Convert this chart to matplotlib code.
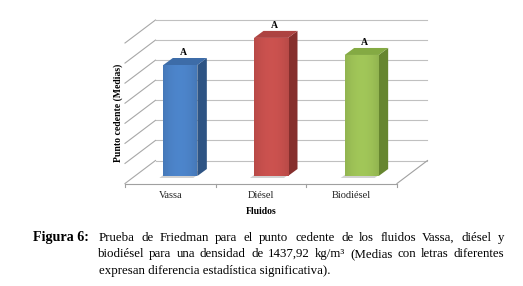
import matplotlib
matplotlib.use("Agg")
import matplotlib.pyplot as plt
from matplotlib.patches import Polygon
from matplotlib.lines import Line2D
import matplotlib.transforms as mtransforms
import matplotlib.colors as mcolors
import numpy as np

# ---------------- data ----------------
categories = ["Vassa", "Diésel", "Biodiésel"]
medias = [5.53, 6.88, 6.03]
letters = ["A", "A", "A"]
gridlevels = list(range(0, 8))
xlabel = "Fluidos"
ylabel = "Punto cedente (Medias)"
caption_head = "Figura 6:"
caption_line1 = "Prueba de Friedman para el punto cedente de los fluidos Vassa, diésel y"
caption_line2 = "biodiésel para una densidad de 1437,92 kg/m³ (Medias con letras diferentes"
caption_line3 = "expresan diferencia estadística significativa)."

front_colors = ["#4a80c4", "#c44f4c", "#9bbf55"]
top_colors = ["#3d6ca8", "#ad4341", "#84aa43"]
side_colors = ["#2e5484", "#862f2d", "#66862f"]

# ---------------- figure ----------------
W, H, DPI = 523, 286, 100
fig = plt.figure(figsize=(W / DPI, H / DPI), dpi=DPI)
fig.patch.set_facecolor("white")
ax = fig.add_axes([135 / W, 110 / H, 272 / W, 140.5 / H])
ax.set_xlim(-0.5, 2.5)
ax.set_ylim(0, 7)
ax.set_autoscale_on(False)
ax.axis("off")

serif = ["Liberation Serif", "DejaVu Serif"]

BACK = (20.5, 15.5)     # back wall offset (display px) from bar front plane
FRONT = (-10.0, -7.5)   # front floor edge offset
DEPTH = (9.5, 7.0)      # bar depth
IDT = mtransforms.IdentityTransform()


def disp(x, y, o=(0, 0)):
    p = ax.transData.transform((x, y))
    return (p[0] + o[0], p[1] + o[1])


def line(p1, p2, color, lw=0.8, z=1):
    ax.add_line(Line2D([p1[0], p2[0]], [p1[1], p2[1]], transform=IDT,
                       color=color, lw=lw, zorder=z, clip_on=False))


x0, x1 = ax.get_xlim()
# back wall gridlines + left wall diagonals
for k in gridlevels:
    line(disp(x0, k, BACK), disp(x1, k, BACK), "#c0c0c0")
    line(disp(x0, k, BACK), disp(x0, k, FRONT), "#a8a8a8")
# floor: front edge, right edge
line(disp(x0, 0, FRONT), disp(x1, 0, FRONT), "#a0a0a0")
line(disp(x1, 0, FRONT), disp(x1, 0, BACK), "#a0a0a0")
for b in np.arange(x0, x1 + 0.01, 1.0):
    p = disp(b, 0, FRONT)
    line(p, (p[0], p[1] - 3), "#a0a0a0")

# bars
xs = np.arange(len(categories))
w = 0.375
# shadows
for i, v in enumerate(medias):
    pts = [disp(xs[i] - w / 2, 0, (-4, -2)), disp(xs[i] + w / 2, 0, (-4, -2)),
           disp(xs[i] + w / 2, 0, (DEPTH[0] - 4, DEPTH[1] - 2)),
           disp(xs[i] - w / 2, 0, (DEPTH[0] - 4, DEPTH[1] - 2))]
    ax.add_patch(Polygon(pts, closed=True, transform=IDT, facecolor="#d2d2d2",
                         edgecolor="none", zorder=2, clip_on=False))

bars = ax.bar(xs, medias, width=w, color=front_colors, zorder=4, linewidth=0)
# subtle horizontal shading on the front faces
prof = np.linspace(-1, 1, 60)
shade = 1.0 + 0.10 * (1 - prof ** 2) - 0.06
for i, (b, v) in enumerate(zip(bars, medias)):
    base = np.array(mcolors.to_rgb(front_colors[i]))
    img = np.clip(base[None, :] * shade[:, None], 0, 1)[None, :, :]
    im = ax.imshow(img, extent=(xs[i] - w / 2, xs[i] + w / 2, 0, v), aspect="auto",
                   zorder=4.5, interpolation="bilinear")
    im.set_clip_path(b)
ax.set_xlim(-0.5, 2.5)
ax.set_ylim(0, 7)

for i, v in enumerate(medias):
    xl, xr = xs[i] - w / 2, xs[i] + w / 2
    side = [disp(xr, 0), disp(xr, v), disp(xr, v, DEPTH), disp(xr, 0, DEPTH)]
    top = [disp(xl, v), disp(xr, v), disp(xr, v, DEPTH), disp(xl, v, DEPTH)]
    ax.add_patch(Polygon(side, closed=True, transform=IDT, facecolor=side_colors[i],
                         edgecolor="none", zorder=3, clip_on=False))
    ax.add_patch(Polygon(top, closed=True, transform=IDT, facecolor=top_colors[i],
                         edgecolor="none", zorder=3, clip_on=False))
    ax.annotate(letters[i], (xs[i], v), xytext=(3, 8), textcoords="offset pixels",
                ha="center", va="bottom", fontsize=7, fontweight="bold",
                family=serif, annotation_clip=False)
    ax.annotate(categories[i], (xs[i], 0), xytext=(FRONT[0], -20),
                textcoords="offset pixels", ha="center", va="center",
                fontsize=7.5, family=serif, color="#222222", annotation_clip=False)

ax.annotate(xlabel, (1, 0), xytext=(FRONT[0], -35), textcoords="offset pixels",
            ha="center", va="center", fontsize=7, fontweight="bold", family=serif,
            annotation_clip=False)
fig.text(118 / W, 1 - 113 / H, ylabel, rotation=90, ha="center", va="center",
         fontsize=7, fontweight="bold", family=serif)

# ---------------- caption ----------------
renderer = fig.canvas.get_renderer()
CAP_FS = 9.3


def justify(words, xa, xb, yc, fs=CAP_FS):
    ts = [fig.text(0, 1 - yc / H, wd, fontsize=fs, family=serif, va="center",
                   ha="left") for wd in words]
    widths = [t.get_window_extent(renderer).width for t in ts]
    gap = (xb - xa - sum(widths)) / (len(words) - 1)
    x = xa
    for t, wd in zip(ts, widths):
        t.set_x(round(x) / W)
        x += wd + gap


fig.text(33 / W, 1 - 238 / H, caption_head, fontsize=10.2, family=serif,
         fontweight="bold", va="center", ha="left")
justify(caption_line1.split(), 99, 504, 238)
justify(caption_line2.split(), 98, 504, 254)
fig.text(99 / W, 1 - 271 / H, caption_line3, fontsize=CAP_FS, family=serif,
         va="center", ha="left")

fig.savefig("out.png", dpi=DPI, facecolor="white")
